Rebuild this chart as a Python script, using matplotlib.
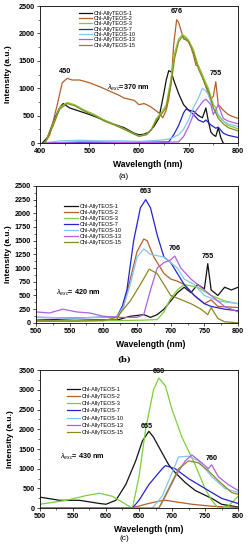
import matplotlib
matplotlib.use("Agg")
import matplotlib.pyplot as plt
from matplotlib.ticker import AutoMinorLocator
import numpy as np

plt.rcParams['font.family'] = ['Liberation Sans', 'DejaVu Sans']
plt.rcParams['mathtext.fontset'] = 'custom'
plt.rcParams['mathtext.rm'] = 'Liberation Sans'
plt.rcParams['mathtext.it'] = 'Liberation Sans:italic'
plt.rcParams['mathtext.bf'] = 'Liberation Sans:bold'

names = ["Chl-AllyTEOS-1", "Chl-AllyTEOS-2", "Chl-AllyTEOS-3", "Chl-AllyTEOS-7",
         "Chl-AllyTEOS-10", "Chl-AllyTEOS-13", "Chl-AllyTEOS-15"]
colors = ["#111111", "#b5602a", "#7ccf3a", "#2424d0", "#80c8f0", "#b060e0", "#8a8a20"]

# ---------- panel (a): lambda_exc = 370 nm ----------
a_x1 = [405, 415, 430, 440, 447, 460, 480, 500, 520, 550, 570, 590, 600, 610, 620, 630, 640, 650, 655, 660, 665, 670, 680, 690, 700, 710, 720, 728, 735, 740, 745, 750, 755, 760, 765, 770]
a_y1 = [0, 100, 450, 650, 720, 640, 580, 520, 450, 340, 280, 180, 150, 160, 200, 300, 450, 900, 1150, 1320, 1300, 1150, 900, 700, 600, 580, 500, 460, 640, 400, 200, 150, 120, 280, 100, 0]
a_x2 = [410, 420, 435, 445, 455, 465, 480, 500, 520, 540, 560, 570, 590, 600, 610, 620, 630, 640, 648, 655, 660, 665, 670, 676, 680, 685, 690, 695, 700, 705, 710, 715, 720, 725, 730, 740, 745, 750, 755, 760, 770, 780, 790, 800]
a_y2 = [0, 150, 700, 1100, 1180, 1150, 1150, 1100, 1030, 950, 870, 820, 780, 700, 720, 680, 620, 550, 460, 600, 800, 1100, 1800, 2250, 2200, 2050, 1900, 1880, 1850, 1750, 1600, 1420, 1400, 1300, 1150, 900, 800, 850, 1120, 700, 600, 520, 480, 450]
a_x3 = [410, 425, 440, 455, 470, 490, 510, 530, 550, 570, 590, 600, 615, 625, 635, 645, 655, 665, 672, 680, 688, 695, 700, 710, 720, 730, 740, 750, 755, 760, 770, 780, 800]
a_y3 = [0, 300, 650, 740, 700, 600, 520, 420, 340, 260, 170, 130, 160, 250, 450, 550, 700, 1200, 1650, 1900, 1980, 1930, 1880, 1700, 1400, 1200, 1000, 700, 650, 500, 400, 320, 260]
a_x7 = [410, 500, 600, 660, 670, 680, 690, 695, 700, 710, 720, 730, 735, 745, 755, 760, 770, 780, 800]
a_y7 = [0, 10, 10, 20, 150, 320, 550, 620, 600, 520, 420, 380, 420, 330, 270, 290, 180, 140, 100]
a_x10 = [410, 440, 480, 520, 560, 600, 640, 660, 680, 690, 700, 710, 720, 728, 735, 740, 750, 760, 770, 780, 800]
a_y10 = [0, 40, 50, 40, 40, 30, 50, 70, 150, 250, 420, 650, 820, 1000, 950, 880, 620, 520, 400, 350, 300]
a_x13 = [410, 480, 560, 640, 680, 690, 700, 710, 720, 730, 735, 745, 750, 755, 760, 770, 780, 800]
a_y13 = [0, 20, 10, 10, 20, 120, 300, 520, 650, 770, 800, 700, 520, 600, 700, 450, 400, 350]
a_x15 = [410, 425, 440, 455, 470, 490, 510, 530, 550, 570, 590, 600, 615, 625, 635, 645, 655, 665, 672, 680, 688, 695, 700, 710, 720, 730, 740, 750, 760, 770, 780, 800]
a_y15 = [0, 280, 620, 720, 680, 580, 500, 400, 330, 250, 160, 120, 150, 240, 420, 520, 650, 1100, 1550, 1850, 1950, 1900, 1850, 1650, 1350, 1150, 950, 650, 450, 350, 280, 220]

# ---------- panel (b): lambda_exc = 420 nm ----------
b_x1 = [500, 530, 560, 590, 620, 640, 660, 670, 680, 690, 700, 710, 720, 730, 740, 750, 755, 760, 770, 780, 790, 800]
b_y1 = [50, 60, 40, 60, 50, 120, 150, 100, 150, 250, 400, 550, 650, 550, 700, 620, 1080, 600, 500, 650, 600, 650]
b_x2 = [500, 560, 620, 630, 640, 650, 660, 665, 675, 690, 700, 710, 720, 735, 750, 760, 770, 800]
b_y2 = [40, 50, 60, 300, 800, 1300, 1530, 1500, 1200, 900, 800, 760, 700, 500, 350, 420, 300, 280]
b_x3 = [500, 560, 620, 660, 680, 690, 700, 710, 720, 740, 760, 780, 800]
b_y3 = [30, 40, 40, 50, 60, 200, 450, 600, 700, 650, 500, 400, 350]
b_x7 = [500, 560, 620, 628, 635, 645, 655, 663, 670, 680, 690, 700, 710, 720, 735, 750, 760, 780, 800]
b_y7 = [100, 90, 110, 300, 600, 1500, 2100, 2250, 2100, 1600, 1200, 1100, 900, 700, 500, 350, 300, 250, 220]
b_x10 = [500, 560, 620, 630, 640, 650, 660, 670, 690, 700, 710, 720, 735, 750, 770, 800]
b_y10 = [100, 90, 110, 300, 700, 1200, 1350, 1250, 1200, 1100, 1000, 800, 700, 500, 400, 350]
b_x13 = [500, 520, 540, 560, 580, 600, 620, 650, 660, 670, 680, 690, 700, 706, 715, 730, 745, 760, 780, 800]
b_y13 = [200, 180, 250, 200, 180, 120, 100, 100, 150, 600, 1000, 1100, 1150, 1220, 1000, 800, 650, 500, 300, 200]
b_x15 = [500, 560, 600, 620, 640, 655, 668, 680, 690, 700, 720, 730, 745, 755, 760, 770, 780, 800]
b_y15 = [30, 30, 40, 100, 400, 700, 980, 900, 700, 500, 400, 350, 250, 150, 280, 80, 20, 0]

# ---------- panel (c): lambda_exc = 430 nm ----------
c_x1 = [500, 530, 560, 590, 600, 615, 630, 645, 655, 665, 672, 685, 695, 705, 720, 735, 760, 775, 800]
c_y1 = [280, 200, 200, 120, 100, 200, 600, 1200, 1700, 1950, 1800, 1400, 1100, 900, 650, 450, 250, 100, 30]
c_x2 = [500, 600, 640, 660, 680, 690, 710, 730, 760, 800]
c_y2 = [10, 10, 10, 100, 180, 200, 150, 100, 50, 20]
c_x3 = [500, 540, 570, 590, 610, 630, 640, 650, 660, 672, 680, 690, 700, 715, 735, 750, 760, 770, 785, 800]
c_y3 = [100, 200, 320, 380, 300, 100, 0, 800, 2000, 3000, 3300, 3100, 2500, 1800, 1100, 500, 200, 0, 50, 300]
c_x7 = [500, 600, 640, 650, 665, 685, 690, 705, 725, 750, 775, 800]
c_y7 = [0, 0, 0, 200, 600, 1000, 1080, 1000, 750, 500, 250, 120]
c_x10 = [500, 600, 670, 685, 700, 710, 725, 740, 760, 780, 800]
c_y10 = [0, 0, 0, 300, 900, 1300, 1320, 1200, 800, 500, 400]
c_x13 = [500, 600, 680, 690, 705, 720, 730, 745, 755, 760, 770, 785, 800]
c_y13 = [0, 0, 0, 300, 800, 1200, 1350, 1150, 1000, 1100, 800, 600, 450]
c_x15 = [500, 600, 680, 695, 710, 725, 740, 755, 770, 790, 800]
c_y15 = [0, 0, 0, 500, 1000, 1200, 1150, 950, 700, 400, 350]

panels = [
    dict(xs=[a_x1, a_x2, a_x3, a_x7, a_x10, a_x13, a_x15], ys=[a_y1, a_y2, a_y3, a_y7, a_y10, a_y13, a_y15],
         xlim=(400, 800), xticks=[400, 500, 600, 700, 800], ylim=(0, 2500), yticks=np.arange(0, 2501, 500),
         rect=[0.161, 0.740, 0.799, 0.249], leg=(0.195, 0.965), lsp=0.05, cap="(a)", capy=1 - 176 / 550,
         capfont=dict(family="Liberation Sans"), xl=(0.545, -0.16), yl=-0.16,
         ann=[("450", 450, 1250), ("676", 676, 2330), ("755", 755, 1200)],
         lam=(r"$\lambda_{exc}$=370 nm", 535, 1000)),
    dict(xs=[b_x1, b_x2, b_x3, b_x7, b_x10, b_x13, b_x15], ys=[b_y1, b_y2, b_y3, b_y7, b_y10, b_y13, b_y15],
         xlim=(500, 800), xticks=[500, 550, 600, 650, 700, 750, 800], ylim=(0, 2500), yticks=np.arange(0, 2501, 250),
         rect=[0.145, 0.413, 0.815, 0.249], leg=(0.14, 0.87), lsp=0.2, cap="(b)", capy=1 - 360 / 550,
         capfont=dict(family="DejaVu Serif", fontweight="bold"), xl=(0.57, -0.16), yl=-0.135,
         ann=[("663", 663, 2330), ("706", 706, 1300), ("755", 755, 1140)],
         lam=(r"$\lambda_{exc}$= 420 nm", 530, 550)),
    dict(xs=[c_x1, c_x2, c_x3, c_x7, c_x10, c_x13, c_x15], ys=[c_y1, c_y2, c_y3, c_y7, c_y10, c_y13, c_y15],
         xlim=(500, 800), xticks=[500, 550, 600, 650, 700, 750, 800], ylim=(0, 3500), yticks=np.arange(0, 3501, 500),
         rect=[0.161, 0.076, 0.799, 0.251], leg=(0.135, 0.88), lsp=0.4, cap="(c)", capy=1 - 539 / 550,
         capfont=dict(family="Liberation Sans"), xl=(0.55, -0.155), yl=-0.15,
         ann=[("680", 680, 3380), ("665", 662, 1990), ("760", 760, 1160)],
         lam=(r"$\lambda_{exc}$= 430 nm", 530, 1300)),
]

fig = plt.figure(figsize=(2.48, 5.5), dpi=100)
for p in panels:
    ax = fig.add_axes(p["rect"])
    for x, y, n, c in zip(p["xs"], p["ys"], names, colors):
        ax.plot(x, y, color=c, lw=0.9, label=n)
    ax.set_xlim(*p["xlim"])
    ax.set_ylim(*p["ylim"])
    ax.set_xticks(p["xticks"])
    ax.set_yticks(p["yticks"])
    ax.xaxis.set_minor_locator(AutoMinorLocator(2))
    ax.yaxis.set_minor_locator(AutoMinorLocator(2))
    ax.tick_params(which="major", labelsize=5.2, direction="out", length=2.5, width=0.5, pad=1.2)
    ax.tick_params(which="minor", direction="out", length=1.5, width=0.4)
    for t in ax.get_xticklabels() + ax.get_yticklabels():
        t.set_fontweight("bold")
    for s in ax.spines.values():
        s.set_linewidth(0.6)
    ax.set_xlabel("Wavelength (nm)", fontsize=6.2, fontweight="bold")
    ax.xaxis.set_label_coords(*p["xl"])
    ax.xaxis.label.set_va("center")
    ax.set_ylabel("Intensity (a.u.)", fontsize=6, fontweight="bold")
    ax.yaxis.set_label_coords(p["yl"], 0.5)
    ax.yaxis.label.set_va("center")
    ax.legend(loc="upper left", bbox_to_anchor=p["leg"], fontsize=4, frameon=False,
              handlelength=2.4, labelspacing=p["lsp"], borderaxespad=0, borderpad=0,
              handletextpad=0.3)
    for t, x, y in p["ann"]:
        ax.text(x, y, t, fontsize=5.2, fontweight="bold", ha="center", va="bottom")
    lt, lx, ly = p["lam"]
    ax.text(lx, ly, lt, fontsize=5.2, fontweight="bold", ha="left", va="center")
    fig.text(0.5, p["capy"], p["cap"], fontsize=6, ha="center", va="center", **p["capfont"])

fig.savefig("out.png", dpi=100)
